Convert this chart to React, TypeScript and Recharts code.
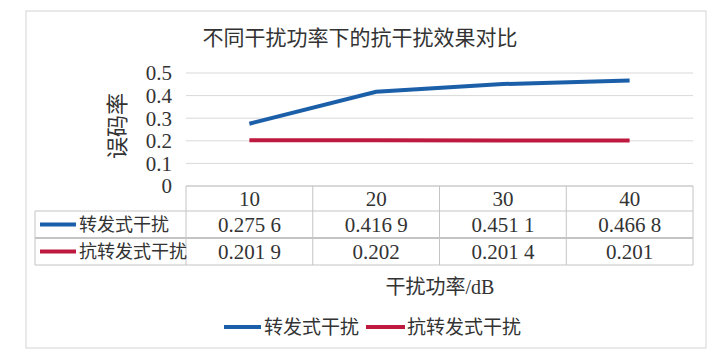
import React from 'react'
import { LineChart, Line, XAxis, YAxis, CartesianGrid, Customized } from 'recharts'

const powers = ['10', '20', '30', '40']
const forwardJam = [0.2756, 0.4169, 0.4511, 0.4668]
const antiForwardJam = [0.2019, 0.202, 0.2014, 0.201]
const yTicks = [0, 0.1, 0.2, 0.3, 0.4, 0.5]

const series = [
  { key: 'forward', name: '转发式干扰', color: '#1c5fa9', values: forwardJam },
  { key: 'anti', name: '抗转发式干扰', color: '#be1a3f', values: antiForwardJam },
]

const data = powers.map((p, i) => ({ power: p, forward: forwardJam[i], anti: antiForwardJam[i] }))

const FONT = "'Liberation Serif', 'Noto Sans CJK SC', serif"
const TEXT = '#333'
const BORDER = '#c4c4c4'

// table frame geometry
const tableLeft = 35
const plotLeft = 186
const plotRight = 693
const rowTops = [186, 211, 238, 265]

// 0.2756 -> "0.275 6"
const fmt = (v: number) => {
  const [a, b = ''] = String(v).split('.')
  return b.length > 3 ? `${a}.${b.slice(0, 3)} ${b.slice(3)}` : String(v)
}

const TableTick = (props: any) => {
  const { x, y, payload } = props
  const i = powers.indexOf(String(payload.value))
  return (
    <g fontFamily={FONT} fill={TEXT} fontSize={21}>
      <text x={x} y={y + 20} textAnchor="middle">{payload.value}</text>
      {series.map((s, r) => (
        <text key={s.key} x={x} y={y + 46 + r * 27} textAnchor="middle">
          {fmt(s.values[i])}
        </text>
      ))}
    </g>
  )
}

const Frame = () => {
  const colW = (plotRight - plotLeft) / powers.length
  const cols = powers.map((_, i) => plotLeft + colW * i).concat(plotRight)
  return (
    <g>
      <rect x={26} y={11} width={680} height={337} fill="none" stroke="#d4d4d4" />
      <text x={360} y={45} textAnchor="middle" fontFamily={FONT} fontSize={21} fill={TEXT}>
        不同干扰功率下的抗干扰效果对比
      </text>
      <text
        transform="translate(125,126) rotate(-90)"
        textAnchor="middle"
        fontFamily={FONT}
        fontSize={22}
        fill={TEXT}
      >
        误码率
      </text>
      {/* table lines */}
      <line x1={plotLeft} x2={plotRight} y1={rowTops[0]} y2={rowTops[0]} stroke={BORDER} />
      {rowTops.slice(1).map((ry, k) => (
        <line key={ry} x1={tableLeft} x2={plotRight} y1={ry} y2={ry} stroke={BORDER} strokeWidth={k === 1 ? 2 : 1} />
      ))}
      {cols.map(cx => (
        <line key={cx} x1={cx} x2={cx} y1={rowTops[0]} y2={rowTops[3]} stroke={BORDER} />
      ))}
      <line x1={tableLeft} x2={tableLeft} y1={rowTops[1]} y2={rowTops[3]} stroke={BORDER} />
      {series.map((s, r) => {
        const cy = (rowTops[r + 1] + rowTops[r + 2]) / 2
        return (
          <g key={s.key}>
            <line x1={40} x2={76} y1={cy} y2={cy} stroke={s.color} strokeWidth={4} />
            <text x={79} y={cy + 6} fontFamily={FONT} fontSize={18} fill={TEXT}>{s.name}</text>
          </g>
        )
      })}
      <text x={440} y={294} textAnchor="middle" fontFamily={FONT} fontSize={20} fill={TEXT}>
        干扰功率/dB
      </text>
      {/* legend */}
      <line x1={224} x2={261} y1={327} y2={327} stroke={series[0].color} strokeWidth={4} />
      <text x={264} y={334} fontFamily={FONT} fontSize={19} fill={TEXT}>{series[0].name}</text>
      <line x1={366} x2={405} y1={327} y2={327} stroke={series[1].color} strokeWidth={4} />
      <text x={407} y={334} fontFamily={FONT} fontSize={19} fill={TEXT}>{series[1].name}</text>
    </g>
  )
}

export default function App() {
  return (
    <div style={{ position: 'absolute', left: 0, top: 0, width: 714, height: 356, background: '#fff' }}>
      <LineChart width={714} height={356} data={data} margin={{ top: 73, right: 21, left: 0, bottom: 0 }}>
        <CartesianGrid vertical={false} stroke="#d9d9d9" />
        <XAxis
          dataKey="power"
          scale="band"
          height={170}
          axisLine={false}
          tickLine={false}
          tickSize={0}
          tickMargin={0}
          interval={0}
          tick={<TableTick />}
        />
        <YAxis
          width={186}
          domain={[0, 0.5]}
          ticks={yTicks}
          interval={0}
          axisLine={false}
          tickLine={false}
          tickSize={0}
          tickMargin={14}
          tick={{ fontFamily: FONT, fontSize: 21, fill: TEXT }}
        />
        {series.map(s => (
          <Line
            key={s.key}
            dataKey={s.key}
            name={s.name}
            stroke={s.color}
            strokeWidth={4}
            dot={false}
            activeDot={false}
            isAnimationActive={false}
          />
        ))}
        <Customized component={<Frame />} />
      </LineChart>
    </div>
  )
}
